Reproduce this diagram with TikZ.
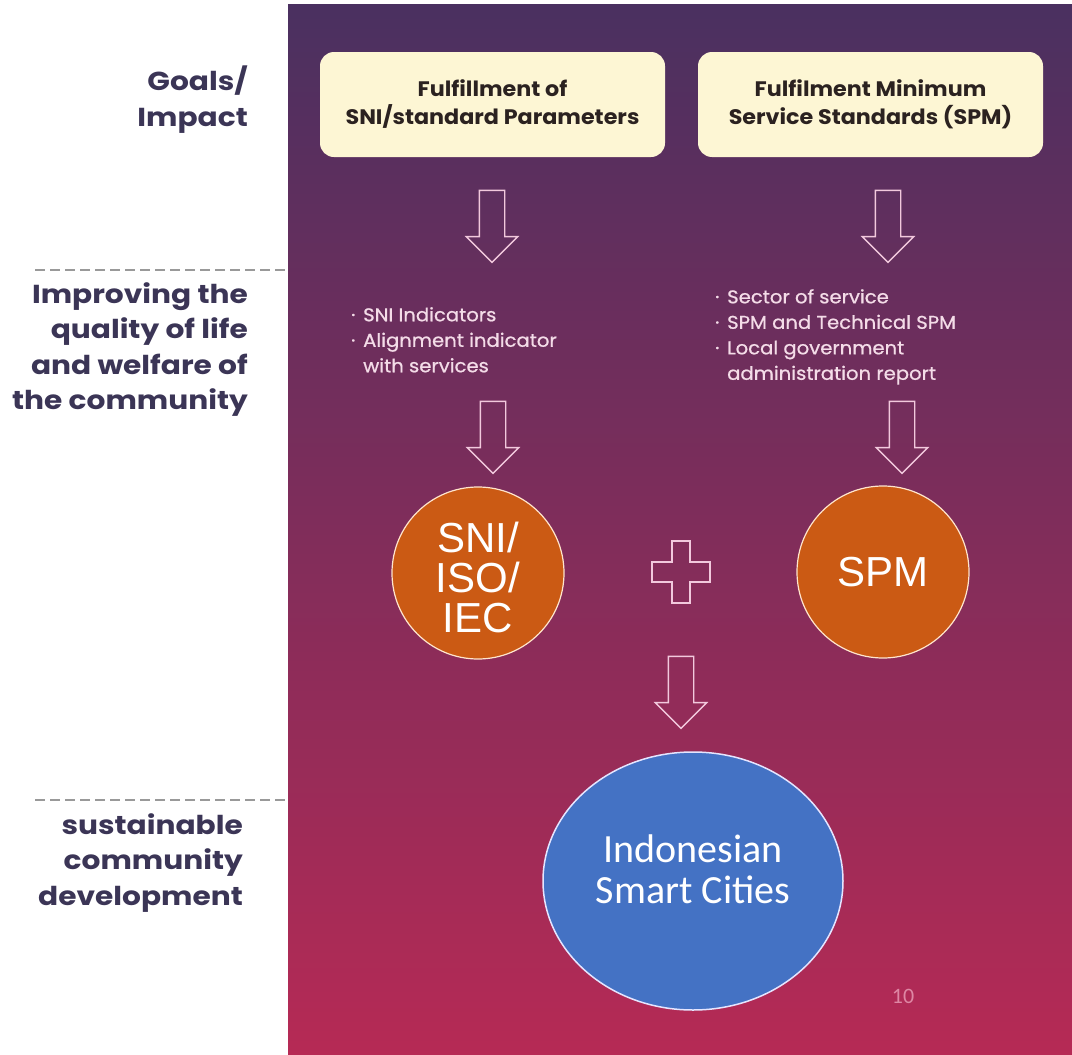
\documentclass[tikz,border=0pt]{standalone}
\usepackage{fontspec}
\setmainfont{Poppins}
\newfontfamily\sidefont{Poppins}[FakeStretch=1.14]
\newfontfamily\boxfont{Poppins}[FakeStretch=1.06]
\newfontfamily\listfont{Poppins}[FakeStretch=1.06,FakeBold=0.8]
\newfontfamily\arialfont{Liberation Sans}
\newfontfamily\calibrifont{Carlito}
\usepackage{tikz}
\usetikzlibrary{positioning,shapes.arrows,shapes.geometric}
\usepackage{xcolor}

\definecolor{panelTop}{HTML}{4A3060}
\definecolor{panelMid}{HTML}{802A5F}
\definecolor{panelBot}{HTML}{B62A55}
\definecolor{labelInk}{HTML}{3B3556}
\definecolor{boxFill}{HTML}{FDF6D4}
\definecolor{boxInk}{HTML}{2B2220}
\definecolor{arrowLine}{HTML}{F2C9DD}
\definecolor{listInk}{HTML}{F4DCE8}
\definecolor{stdOrange}{HTML}{CB5A14}
\definecolor{cityBlue}{HTML}{4472C4}
\definecolor{pageInk}{HTML}{DE87A4}

\newcommand{\itm}{\makebox[12pt][l]{·}}

\begin{document}
\begin{tikzpicture}[x=1pt,y=-1pt,
      side label/.style={anchor=north east,align=right,inner sep=0,
          text=labelInk,font=\sidefont\bfseries\fontsize{26}{35.5}\selectfont},
      goal box/.style={rounded corners=14pt,fill=boxFill,minimum width=345pt,
          minimum height=105pt,align=center,text=boxInk,
          font=\boxfont\bfseries\fontsize{21}{28}\selectfont},
      bullet list/.style={anchor=north west,align=left,inner sep=0,
          text=listInk,font=\listfont\fontsize{18.5}{25.5}\selectfont},
      down arrow/.style={single arrow,draw=arrowLine,line width=1.4pt,
          rotate=-90,minimum height=72pt,inner sep=12pt,
          single arrow head extend=13pt},
      std circle/.style={circle,fill=stdOrange,draw=orange!20,line width=1.2pt,
          minimum size=172pt,text=white,align=center,
          font=\arialfont\fontsize{42}{40}\selectfont},
      sep line/.style={dash pattern=on 10pt off 5pt,draw=gray!80,line width=1.6pt}]

    \useasboundingbox (0,0) rectangle (1072,1055);
    \shade[top color=panelTop,middle color=panelMid,bottom color=panelBot]
      (288,4) rectangle (1072,1055);

    % left side labels and separators
    \node[side label] (goals) at (248,66) {Goals/\\Impact};
    \node[side label] (quality) at (248,282) {Improving the\\quality of life\\and welfare of\\the community};
    \node[side label] (sustain) at (243,813) {sustainable\\community\\development};
    \draw[sep line] (35,270) -- (288,270);
    \draw[sep line] (35,800) -- (288,800);

    % goals
    \node[goal box] (sni box) at (492.5,104.5) {Fulfillment of\\SNI/standard Parameters};
    \node[goal box] (spm box) at (870.5,104.5) {Fulfilment Minimum\\Service Standards (SPM)};

    \node[down arrow] (sni arrow) at (492,220) {};
    \node[down arrow] (spm arrow) at (888,220) {};

    % indicators
    \node[bullet list] (sni list) at (351,307) {\itm SNI Indicators\\\itm Alignment indicator\\\hspace*{12pt}with services};
    \node[bullet list] (spm list) at (715,289) {\itm Sector of service\\\itm SPM and Technical SPM\\\itm Local government\\\hspace*{12pt}administration report};

    \node[down arrow] (sni arrow2) at (493,431) {};
    \node[down arrow] (spm arrow2) at (902,431) {};

    % standards
    \node[std circle,label={[font=\arialfont\fontsize{42}{40}\selectfont,text=white,
            align=center,yshift=-4pt]center:SNI/\\ISO/\\IEC}] (sni circle) at (478,573) {};
    \node[std circle] (spm circle) at (883,572) {SPM};

    \coordinate (plus) at (681,572);
    \draw[arrowLine,line width=1.4pt] (plus) ++(-9,-31) -- ++(18,0) -- ++(0,21)
      -- ++(20,0) -- ++(0,20) -- ++(-20,0) -- ++(0,21) -- ++(-18,0)
      -- ++(0,-21) -- ++(-20,0) -- ++(0,-20) -- ++(20,0) -- cycle;

    \node[down arrow] (city arrow) at (681,686) {};

    \node[ellipse,fill=cityBlue,draw=white!90!blue,line width=1.5pt,
          minimum width=300pt,minimum height=258pt,
          label={[font=\calibrifont\fontsize{40}{41}\selectfont,text=white,
            align=center,yshift=12pt]center:Indonesian\\Smart Cities}] (cities) at (693,881) {};

    \node[font=\calibrifont\fontsize{22}{22}\selectfont,text=pageInk] (page) at (903,996) {10};

  \end{tikzpicture}
\end{document}
